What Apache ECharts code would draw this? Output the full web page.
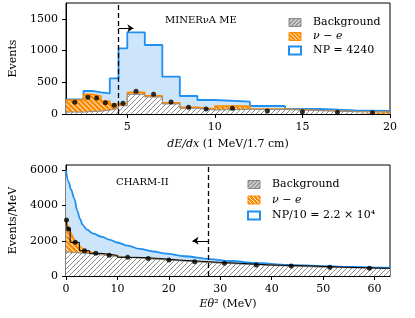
<!DOCTYPE html>
<html>
<head>
<meta charset="utf-8">
<script src="https://cdn.jsdelivr.net/npm/echarts@6/dist/echarts.min.js"></script>
<style>html,body{margin:0;padding:0;background:#fff}#c{width:415px;height:318px}</style>
</head>
<body>
<div id="c"></div>
<script>
// ---------- Top panel (MINERvA ME) ----------
const topEdges = [1.5, 2.5, 3, 3.5, 4, 4.5, 5, 6, 7, 8, 9, 10, 12, 14, 16, 18, 20];
const topNP    = [232, 363, 342, 326, 563, 1036, 1288, 1088, 588, 284, 221, 194, 126, 79, 58, 47];
const topSig   = [220, 310, 284, 205, 158, 170, 342, 289, 178, 105, 79, 126, 80, 55, 38, 33];
const topBg    = [30, 40, 45, 60, 90, 130, 310, 268, 158, 90, 63, 74, 72, 52, 36, 31];
const topDotX  = [2, 2.75, 3.25, 3.75, 4.25, 4.75, 5.5, 6.5, 7.5, 8.5, 9.5, 11, 13, 15, 17, 19];
const topDotY  = [185, 263, 252, 178, 137, 170, 358, 310, 189, 105, 79, 90, 47, 36, 26, 21];
const topXTicks = [5, 10, 15, 20];
const topYTicks = [0, 500, 1000, 1500];
const topCut = 4.5;

// ---------- Bottom panel (CHARM-II) ----------
const botNPX = [0, 0.5, 1.0, 1.6, 2.2, 2.7, 3.25, 4, 5.2, 7, 8.4, 10, 12, 14.3, 17, 19.5, 23, 27.9, 32, 36.7, 43.2, 50, 56, 61.4, 63];
const botNPY = [6000, 5350, 4900, 4400, 3700, 3250, 2900, 2650, 2420, 2220, 2070, 1900, 1720, 1540, 1390, 1270, 1120, 960, 850, 740, 630, 560, 510, 480, 470];
const botSigX = [0, 0.1, 0.5, 1.8, 3.6, 5.8, 8.4, 12, 16, 20, 25, 31, 37, 44, 51, 59, 63];
const botSigY = [3250, 3180, 2750, 1950, 1450, 1290, 1180, 1065, 1005, 910, 820, 725, 630, 570, 495, 440, 425];
const botBgX = [0, 5, 10, 15, 20, 25, 30, 40, 50, 63];
const botBgY = [1360, 1260, 1110, 1000, 900, 810, 730, 600, 500, 420];
const botEdges = [0, 0.25, 0.8, 2.6, 4.6, 7, 10, 14, 18, 22, 27.7, 34, 40, 48, 55, 63];
const botDotX = [0.1, 0.5, 1.8, 3.6, 5.8, 8.4, 12, 16, 20, 25, 30.8, 37, 43.8, 51.3, 59];
const botDotY = [3173, 2663, 1909, 1435, 1285, 1172, 1058, 1000, 906, 812, 718, 623, 566, 491, 435];
const botXTicks = [0, 10, 20, 30, 40, 50, 60];
const botYTicks = [0, 2000, 4000, 6000];
const botCut = 27.7;

// ---------- helpers ----------
function hatch(bg, fg, dir, size, lw) {
  const c = document.createElement('canvas');
  c.width = size; c.height = size;
  const g = c.getContext('2d');
  g.fillStyle = bg; g.fillRect(0, 0, size, size);
  g.strokeStyle = fg; g.lineWidth = lw;
  g.beginPath();
  if (dir === '/') {
    g.moveTo(-1, size + 1); g.lineTo(size + 1, -1);
    g.moveTo(-1, 1); g.lineTo(1, -1);
    g.moveTo(size - 1, size + 1); g.lineTo(size + 1, size - 1);
  } else {
    g.moveTo(-1, -1); g.lineTo(size + 1, size + 1);
    g.moveTo(size - 1, -1); g.lineTo(size + 1, 1);
    g.moveTo(-1, size - 1); g.lineTo(1, size + 1);
  }
  g.stroke();
  return { image: c, repeat: 'repeat' };
}
function stepData(edges, vals) {
  const d = vals.map((v, i) => [edges[i], v]);
  d.push([edges[edges.length - 1], vals[vals.length - 1]]);
  return d;
}
function zip(xs, ys) { return xs.map((x, i) => [x, ys[i]]); }

const BLUE = '#1f8ff0', LBLUE = '#cde5fa', ORANGE = '#fb8a00', GRAY = '#8a8a8a';
const grayPat = hatch('#ffffff', '#8c8c8c', '/', 5, 1);
const orangePat = hatch('#ffffff', ORANGE, '\\', 5, 2.8);
const grayLegPat = hatch('#9a9a9a', '#ffffff', '/', 4, 1);
const orangeLegPat = hatch(ORANGE, '#ffffff', '\\', 4, 1);
const FONT = 'DejaVu Serif';

const chart = echarts.init(document.getElementById('c'), null, { renderer: 'canvas' });

function axisCommon(ticks) {
  return {
    axisLine: { show: true, onZero: false, lineStyle: { color: '#000', width: 1 } },
    axisTick: { show: true, inside: false, length: 4, customValues: ticks, lineStyle: { color: '#000', width: 1 } },
    axisLabel: { customValues: ticks, color: '#000', fontFamily: FONT, fontSize: 11, formatter: (v) => String(v) },
    splitLine: { show: false }
  };
}

const legendData = (np) => [
  { name: 'Background', icon: 'rect', itemStyle: { color: grayLegPat, borderColor: '#888', borderWidth: 1 } },
  { name: 'ν − e', icon: 'rect', itemStyle: { color: orangeLegPat, borderColor: ORANGE, borderWidth: 1 } },
  { name: np, icon: 'rect', itemStyle: { color: '#fff', borderColor: BLUE, borderWidth: 2 } }
];
const legendText = {
  color: '#000', fontFamily: FONT, fontSize: 11, padding: [0, 0, 0, 7],
  rich: { i: { fontStyle: 'italic', fontFamily: FONT, fontSize: 11 } }
};
const legendFmt = (n) => n === 'ν − e' ? '{i|ν} − {i|e}' : n;

const option = {
  animation: false,
  backgroundColor: '#fff',
  grid: [
    { left: 66, right: 25, top: 3, height: 111, show: true, borderColor: '#000', borderWidth: 1, backgroundColor: 'transparent' },
    { left: 66, right: 25, top: 165, height: 111, show: true, borderColor: '#000', borderWidth: 1, backgroundColor: 'transparent' }
  ],
  title: [
    { text: 'MINERνA ME', left: 160, top: 10, textStyle: { fontFamily: FONT, fontSize: 10, fontWeight: 'normal', color: '#000' } },
    { text: 'CHARM-II', left: 111, top: 172, textStyle: { fontFamily: FONT, fontSize: 10, fontWeight: 'normal', color: '#000' } }
  ],
  legend: [
    { orient: 'vertical', left: 283, top: 12, itemWidth: 12, itemHeight: 8, itemGap: 3,
      data: legendData('NP = 4240'), textStyle: legendText, formatter: legendFmt, selectedMode: false },
    { orient: 'vertical', left: 242, top: 174, itemWidth: 12, itemHeight: 8, itemGap: 4.5,
      data: legendData('NP/10 = 2.2 × 10⁴'), textStyle: legendText, formatter: legendFmt, selectedMode: false }
  ],
  xAxis: [
    Object.assign({ type: 'value', gridIndex: 0, min: 1.5, max: 20,
      name: '{i|dE/dx} (1 MeV/1.7 cm)', nameLocation: 'middle', nameGap: 25,
      nameTextStyle: { color: '#000', fontFamily: FONT, fontSize: 11, rich: { i: { fontStyle: 'italic', fontFamily: FONT, fontSize: 11 } } }
    }, axisCommon(topXTicks)),
    Object.assign({ type: 'value', gridIndex: 1, min: 0, max: 63,
      name: '{i|Eθ}² (MeV)', nameLocation: 'middle', nameGap: 23,
      nameTextStyle: { color: '#000', fontFamily: FONT, fontSize: 11, rich: { i: { fontStyle: 'italic', fontFamily: FONT, fontSize: 11 } } }
    }, axisCommon(botXTicks))
  ],
  yAxis: [
    Object.assign({ type: 'value', gridIndex: 0, min: 0, max: 1750,
      name: 'Events', nameLocation: 'middle', nameGap: 47,
      nameTextStyle: { color: '#000', fontFamily: FONT, fontSize: 11 }
    }, axisCommon(topYTicks)),
    Object.assign({ type: 'value', gridIndex: 1, min: 0, max: 6300,
      name: 'Events/MeV', nameLocation: 'middle', nameGap: 47,
      nameTextStyle: { color: '#000', fontFamily: FONT, fontSize: 11 }
    }, axisCommon(botYTicks))
  ],
  series: [
    // ---- top panel ----
    { name: 'npTop', type: 'line', xAxisIndex: 0, yAxisIndex: 0, step: 'end', z: 1,
      data: stepData(topEdges, topNP), symbol: 'none',
      lineStyle: { color: BLUE, width: 1.8 }, areaStyle: { color: LBLUE, opacity: 1 },
      markLine: { silent: true, symbol: 'none', label: { show: false },
        lineStyle: { color: '#000', type: [5, 3], width: 1.3 }, data: [{ xAxis: topCut }] } },
    { name: 'sigTop', type: 'line', xAxisIndex: 0, yAxisIndex: 0, step: 'end', z: 2,
      data: stepData(topEdges, topSig), symbol: 'none',
      lineStyle: { color: ORANGE, width: 1.5 }, areaStyle: { color: orangePat, opacity: 1 } },
    { name: 'bgTop', type: 'line', xAxisIndex: 0, yAxisIndex: 0, step: 'end', z: 3,
      data: stepData(topEdges, topBg), symbol: 'none',
      lineStyle: { color: GRAY, width: 1 }, areaStyle: { color: grayPat, opacity: 1 },
      markLine: { silent: true, symbol: ['none', 'arrow'], symbolSize: 6, label: { show: false },
        lineStyle: { color: '#000', type: 'solid', width: 1 },
        data: [[{ coord: [topCut, 1350] }, { coord: [5.35, 1350] }]] } },
    { name: 'dotsTop', type: 'scatter', xAxisIndex: 0, yAxisIndex: 0, z: 5,
      data: zip(topDotX, topDotY), symbolSize: 5, itemStyle: { color: '#000' } },
    // ---- bottom panel ----
    { name: 'npBot', type: 'line', xAxisIndex: 1, yAxisIndex: 1, smooth: 0.35, smoothMonotone: 'x', z: 1,
      data: zip(botNPX, botNPY), symbol: 'none',
      lineStyle: { color: BLUE, width: 1.8 }, areaStyle: { color: LBLUE, opacity: 1 },
      markLine: { silent: true, symbol: 'none', label: { show: false },
        lineStyle: { color: '#000', type: [5, 3], width: 1.3 }, data: [{ xAxis: botCut }] } },
    { name: 'sigBot', type: 'line', xAxisIndex: 1, yAxisIndex: 1, z: 2,
      data: zip(botSigX, botSigY), symbol: 'none',
      lineStyle: { color: ORANGE, width: 1.2 }, areaStyle: { color: orangePat, opacity: 1 } },
    { name: 'bgBot', type: 'line', xAxisIndex: 1, yAxisIndex: 1, z: 3,
      data: zip(botBgX, botBgY), symbol: 'none',
      lineStyle: { color: GRAY, width: 1 }, areaStyle: { color: grayPat, opacity: 1 },
      markLine: { silent: true, symbol: ['none', 'arrow'], symbolSize: 6, label: { show: false },
        lineStyle: { color: '#000', type: 'solid', width: 1 },
        data: [[{ coord: [botCut, 2000] }, { coord: [24.6, 2000] }]] } },
    { name: 'barsBot', type: 'line', xAxisIndex: 1, yAxisIndex: 1, step: 'end', z: 4,
      data: stepData(botEdges, botDotY), symbol: 'none',
      lineStyle: { color: '#000', width: 1 } },
    { name: 'dotsBot', type: 'scatter', xAxisIndex: 1, yAxisIndex: 1, z: 5,
      data: zip(botDotX, botDotY), symbolSize: 5, itemStyle: { color: '#000' } },
    // ---- legend carriers ----
    { name: 'Background', type: 'bar', xAxisIndex: 0, yAxisIndex: 0, data: [], itemStyle: { color: grayLegPat } },
    { name: 'ν − e', type: 'bar', xAxisIndex: 0, yAxisIndex: 0, data: [], itemStyle: { color: orangeLegPat } },
    { name: 'NP = 4240', type: 'bar', xAxisIndex: 0, yAxisIndex: 0, data: [], itemStyle: { color: '#fff' } },
    { name: 'NP/10 = 2.2 × 10⁴', type: 'bar', xAxisIndex: 1, yAxisIndex: 1, data: [], itemStyle: { color: '#fff' } }
  ]
};
chart.setOption(option);
</script>
</body>
</html>
